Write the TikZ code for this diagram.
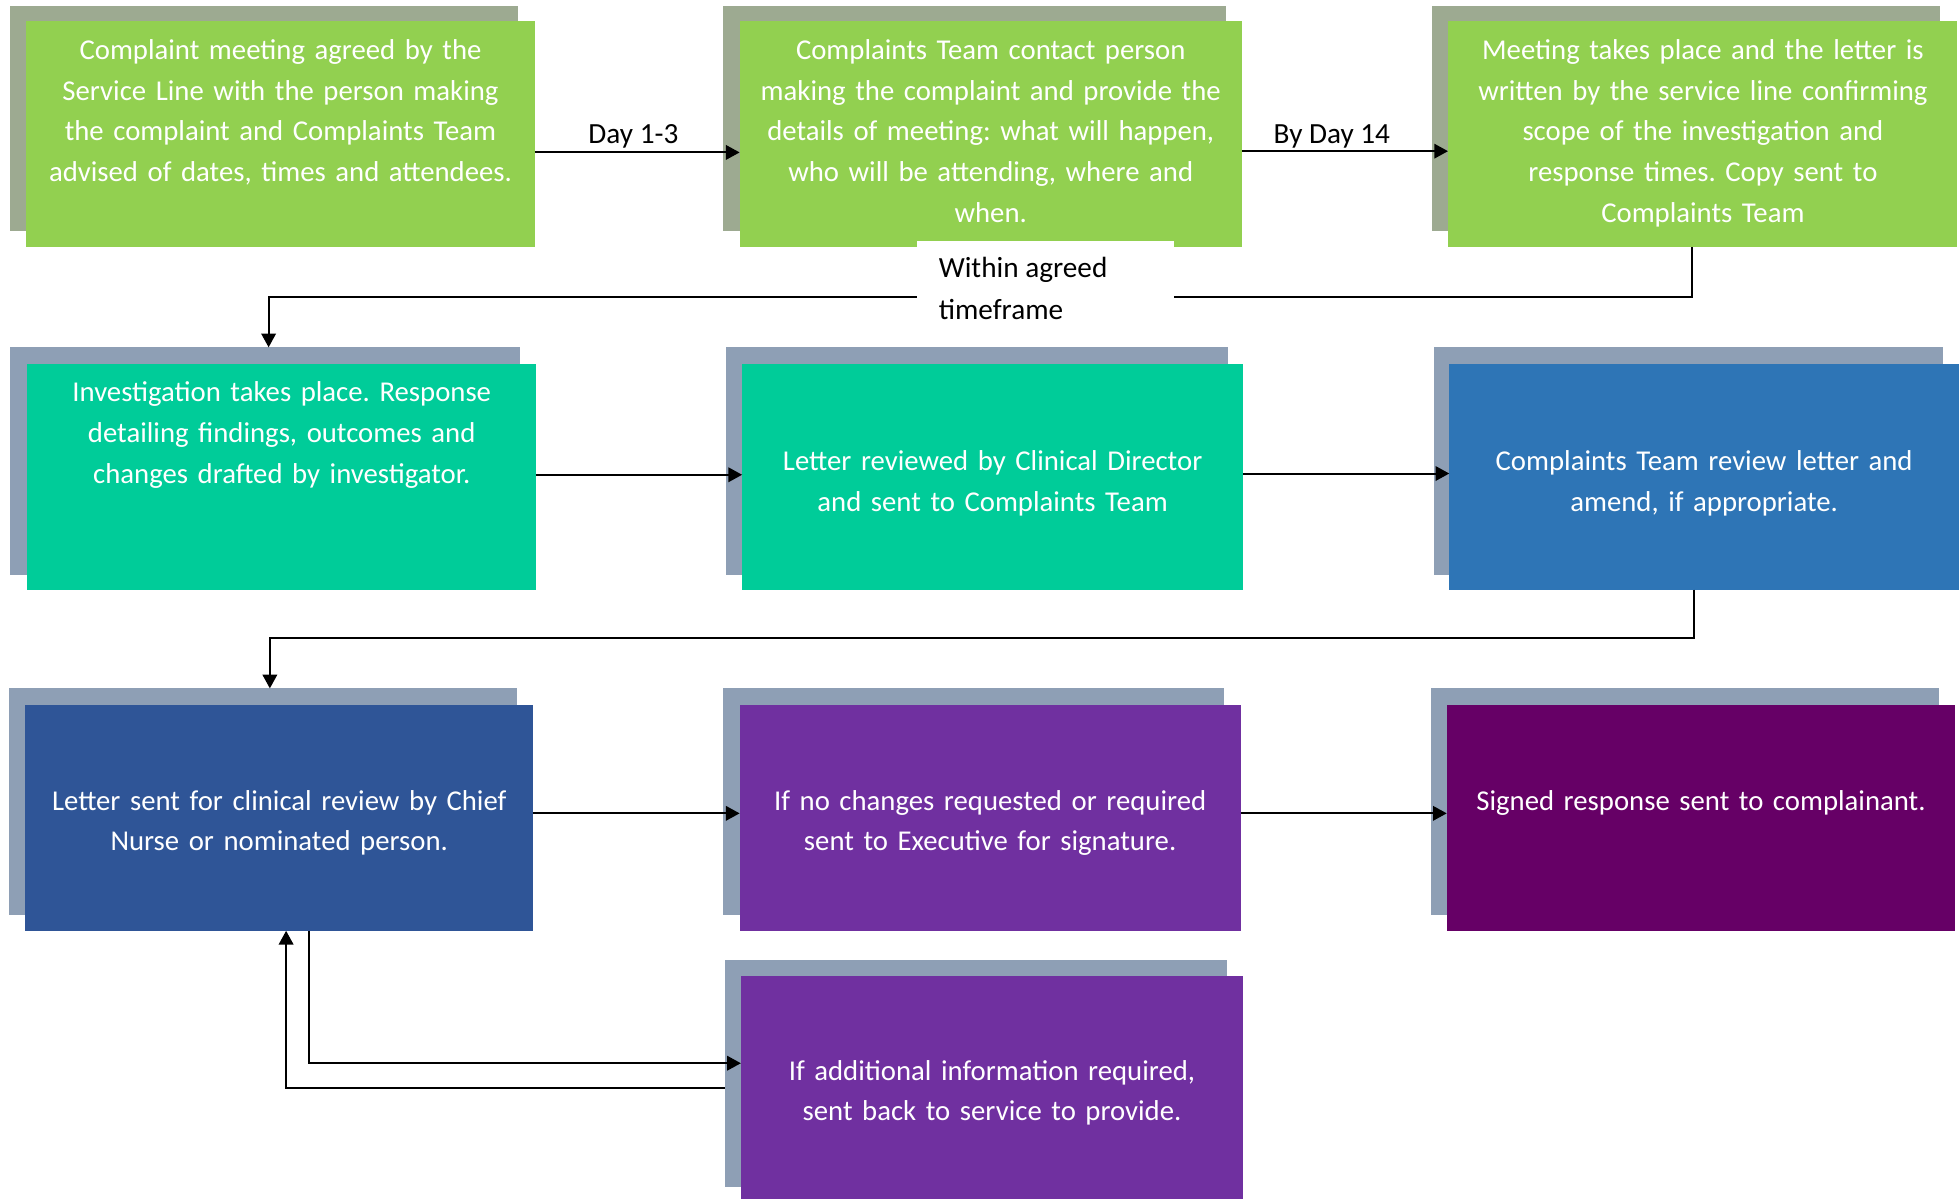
\documentclass[tikz,border=0pt]{standalone}
\usepackage{fontspec}
\setmainfont{Carlito}
\newfontfamily\boxfont[WordSpace=0.85]{Carlito}
\usetikzlibrary{arrows.meta,fit}
\definecolor{cgreen}{HTML}{92D050}
\definecolor{cgshadow}{HTML}{9DAA91}
\definecolor{cteal}{HTML}{00CC99}
\definecolor{cbshadow}{HTML}{8E9FB5}
\definecolor{cblue}{HTML}{2E75B6}
\definecolor{cdblue}{HTML}{2F5597}
\definecolor{cpurple}{HTML}{7030A0}
\definecolor{cplum}{HTML}{660066}
\frenchspacing
\begin{document}
\begin{tikzpicture}[x=0.5pt,y=-0.5pt,
  boxnode/.style={inner sep=0pt, outer sep=0pt, draw=none},
  txt/.style={text=white, font=\boxfont\fontsize{11.5}{16.3}\selectfont\frenchspacing, align=center, text width=200pt, inner sep=0pt, anchor=base},
  lbl/.style={text=black, font=\fontsize{11.7}{16.3}\selectfont, inner sep=0pt, anchor=base},
  arr/.style={-{Triangle[length=5.5pt,width=5.8pt]}, line width=0.8pt, black}]
\useasboundingbox (0,0) rectangle (1568,960);
% ---- row 1
\node[boxnode, fill=cgshadow, fit={(8,5) (415,185)}] (As) {};
\node[boxnode, fill=cgreen, fit={(21,17) (428,198)}] (A) {};
\node[boxnode, fill=cgshadow, fit={(579,5) (981,185)}] (Bs) {};
\node[boxnode, fill=cgreen, fit={(592,17) (994,198)}] (B) {};
\node[boxnode, fill=cgshadow, fit={(1146,5) (1553,185)}] (Cs) {};
\node[boxnode, fill=cgreen, fit={(1159,17) (1566,198)}] (C) {};
% ---- row 2
\node[boxnode, fill=cbshadow, fit={(8,278) (416,460)}] (Ds) {};
\node[boxnode, fill=cteal, fit={(22,291) (429,472)}] (D) {};
\node[boxnode, fill=cbshadow, fit={(581,278) (983,460)}] (Es) {};
\node[boxnode, fill=cteal, fit={(594,291) (995,472)}] (E) {};
\node[boxnode, fill=cbshadow, fit={(1148,278) (1555,460)}] (Fs) {};
\node[boxnode, fill=cblue, fit={(1160,291) (1568,472)}] (F) {};
% ---- row 3
\node[boxnode, fill=cbshadow, fit={(7,551) (414,732)}] (Gs) {};
\node[boxnode, fill=cdblue, fit={(20,564) (427,745)}] (G) {};
\node[boxnode, fill=cbshadow, fit={(579,551) (980,732)}] (Hs) {};
\node[boxnode, fill=cpurple, fit={(592,564) (993,745)}] (H) {};
\node[boxnode, fill=cbshadow, fit={(1145,551) (1552,732)}] (Is) {};
\node[boxnode, fill=cplum, fit={(1158,564) (1565,745)}] (I) {};
% ---- row 4
\node[boxnode, fill=cbshadow, fit={(580,768) (982,950)}] (Js) {};
\node[boxnode, fill=cpurple, fit={(593,781) (995,960)}] (J) {};
% ---- texts
\node[txt] (tA) at (224.5,47.5) {Complaint meeting agreed by the\\Service Line with the person making\\the complaint and Complaints Team\\advised of dates, times and attendees.};
\node[txt] (tB) at (793,47.5) {Complaints Team contact person\\making the complaint and provide the\\details of meeting: what will happen,\\who will be attending, where and\\when.};
\node[txt] (tC) at (1363,47.5) {Meeting takes place and the letter is\\written by the service line confirming\\scope of the investigation and\\response times. Copy sent to\\Complaints Team};
\node[txt] (tD) at (225.5,321.5) {Investigation takes place. Response\\detailing findings, outcomes and\\changes drafted by investigator.};
\node[txt] (tE) at (794.5,376.5) {Letter reviewed by Clinical Director\\and sent to Complaints Team};
\node[txt] (tF) at (1364,376.5) {Complaints Team review letter and\\amend, if appropriate.};
\node[txt] (tG) at (223.5,648.5) {Letter sent for clinical review by Chief\\Nurse or nominated person.};
\node[txt] (tH) at (792.5,648.5) {If no changes requested or required\\sent to Executive for signature.};
\node[txt] (tI) at (1361.5,648.5) {Signed response sent to complainant.};
\node[txt] (tJ) at (794,864.5) {If additional information required,\\sent back to service to provide.};
% ---- connectors
\draw[arr] (A.east |- 0,122) -- (B.west |- 0,122);
\node[lbl] (l1) at (507,115) {Day 1-3};
\draw[arr] (B.east |- 0,121) -- (C.west |- 0,121);
\node[lbl] (l2) at (1066,115) {By Day 14};
\draw[arr] (C.south -| 1354,0) |- (215,238) -- (Ds.north -| 215,0);
\draw[arr] (D.east |- 0,380) -- (E.west |- 0,380);
\draw[arr] (E.east |- 0,379) -- (F.west |- 0,379);
\draw[arr] (F.south -| 1356,0) |- (216,511) -- (Gs.north -| 216,0);
\draw[arr] (G.east |- 0,651) -- (H.west |- 0,651);
\draw[arr] (H.east |- 0,651) -- (I.west |- 0,651);
\draw[arr] (G.south -| 247,0) |- (J.west |- 0,851);
\draw[arr] (Js.west |- 0,871) -| (G.south -| 229,0);
% ---- label on the return connector
\fill[white] (734,193) rectangle (940,268);
\node[lbl, anchor=base west] (l3) at (751,222) {Within agreed};
\node[lbl, anchor=base west] (l4) at (751,255.5) {timeframe};
\end{tikzpicture}
\end{document}
